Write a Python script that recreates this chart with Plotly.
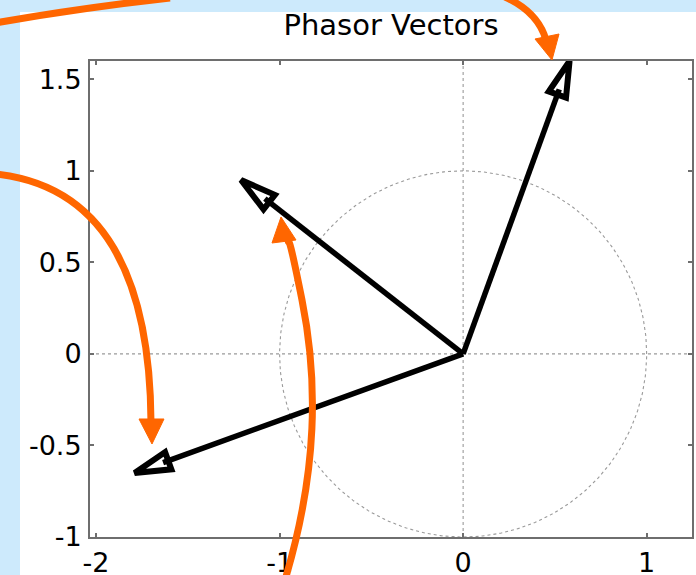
import numpy as np
import plotly.graph_objects as go

# ---- data ----
phasor_re = [0.58, -1.21, -1.79]
phasor_im = [1.60, 0.95, -0.65]
x_ticks = [-2, -1, 0, 1]
x_tick_labels = ["-2", "-1", "0", "1"]
y_ticks = [-1, -0.5, 0, 0.5, 1, 1.5]
y_tick_labels = ["-1", "-0.5", "0", "0.5", "1", "1.5"]
x_range = [-2.033, 1.247]
y_range = [-1.0, 1.6]
title_text = "Phasor Vectors"

# ---- geometry ----
W, H = 696, 575
ML, MR, MT, MB = 90, 4, 61, 38
PW, PH = W - ML - MR, H - MT - MB


def px(x, y):
    return ((x - ML) / PW, (H - MB - y) / PH)


def path_from(cmds):
    out = []
    for c in cmds:
        op, pts = c[0], c[1:]
        s = op
        for (x, y) in pts:
            a, b = px(x, y)
            s += f" {a:.5f},{b:.5f}"
        out.append(s)
    return " ".join(out)


fig = go.Figure()

grid_style = dict(color="#9a9a9a", width=1.1, dash="dot")
# unit circle
th = np.linspace(0, 2 * np.pi, 361)
fig.add_trace(go.Scatter(x=np.cos(th), y=np.sin(th), mode="lines",
                         line=grid_style, hoverinfo="skip", showlegend=False))
# axes through origin
fig.add_trace(go.Scatter(x=[0, 0], y=y_range, mode="lines", line=grid_style,
                         hoverinfo="skip", showlegend=False))
fig.add_trace(go.Scatter(x=x_range, y=[0, 0], mode="lines", line=grid_style,
                         hoverinfo="skip", showlegend=False))

# phasor arrows
head_len, head_half = 0.195, 0.05
for re, im in zip(phasor_re, phasor_im):
    mag = np.hypot(re, im)
    ux, uy = re / mag, im / mag
    nx, ny = -uy, ux
    bx, by = re - head_len * ux, im - head_len * uy
    fig.add_trace(go.Scatter(x=[0, bx + 0.03 * ux], y=[0, by + 0.03 * uy], mode="lines",
                             line=dict(color="black", width=5.5),
                             hoverinfo="skip", showlegend=False))
    fig.add_trace(go.Scatter(
        x=[bx + head_half * nx, re, bx - head_half * nx, bx + head_half * nx, re],
        y=[by + head_half * ny, im, by - head_half * ny, by + head_half * ny, im],
        mode="lines", line=dict(color="black", width=6),
        hoverinfo="skip", showlegend=False))

axis_common = dict(
    showline=True, linecolor="#6e6e6e", linewidth=2, mirror="ticks",
    ticks="inside", ticklen=4, tickcolor="#6e6e6e", tickwidth=1.5,
    showgrid=False, zeroline=False, automargin=False,
    tickfont=dict(family="DejaVu Sans, Liberation Sans, Arial", size=27, color="black"),
)

fig.update_xaxes(range=x_range, tickvals=x_ticks, ticktext=x_tick_labels,
                 ticklabelstandoff=1, **axis_common)
fig.update_yaxes(range=y_range, tickvals=y_ticks, ticktext=y_tick_labels,
                 ticklabelstandoff=1, **axis_common)

# background: light blue frame with white page
a0, b0 = px(20, 12)
a1, b1 = px(W + 2, H + 2)
shapes = [dict(type="rect", xref="paper", yref="paper", x0=a0, y0=b1, x1=a1, y1=b0,
               fillcolor="white", line=dict(width=0), layer="below")]

orange = "#ff6600"
curves = [
    [("M", (-5, 23)), ("Q", (80, 8), (170, -2))],
    [("M", (505, -3)), ("Q", (538, 12), (546, 40))],
    [("M", (-5, 174)), ("C", (100, 185), (150, 270), (151, 422))],
    [("M", (285, 580)), ("C", (318, 470), (318, 380), (302, 300)), ("S", (290, 250), (288, 240))],
]
for c in curves:
    shapes.append(dict(type="path", xref="paper", yref="paper", path=path_from(c),
                       line=dict(color=orange, width=7), layer="above"))
heads = [
    [(535, 39), (559, 34), (552, 60)],
    [(139, 419), (164, 419), (152, 444)],
    [(272, 243), (296, 240), (281, 217)],
]
for hd in heads:
    cmds = [("M", hd[0]), ("L", hd[1]), ("L", hd[2]), ("Z",)]
    shapes.append(dict(type="path", xref="paper", yref="paper", path=path_from(cmds),
                       fillcolor=orange, line=dict(color=orange, width=1), layer="above"))

fig.update_layout(
    width=W, height=H,
    margin=dict(l=ML, r=MR, t=MT, b=MB, pad=0, autoexpand=False),
    paper_bgcolor="#cdeafc", plot_bgcolor="white",
    title=dict(text=title_text, x=(ML + PW / 2) / W, xref="container", xanchor="center",
               y=1 - 25 / H, yref="container", yanchor="middle",
               font=dict(family="DejaVu Sans, Liberation Sans, Arial", size=29, color="black")),
    shapes=shapes,
    showlegend=False,
)

fig.write_html("out.html", config={"displayModeBar": False},
               post_script="document.body.style.margin='0';document.body.style.overflow='hidden';")
